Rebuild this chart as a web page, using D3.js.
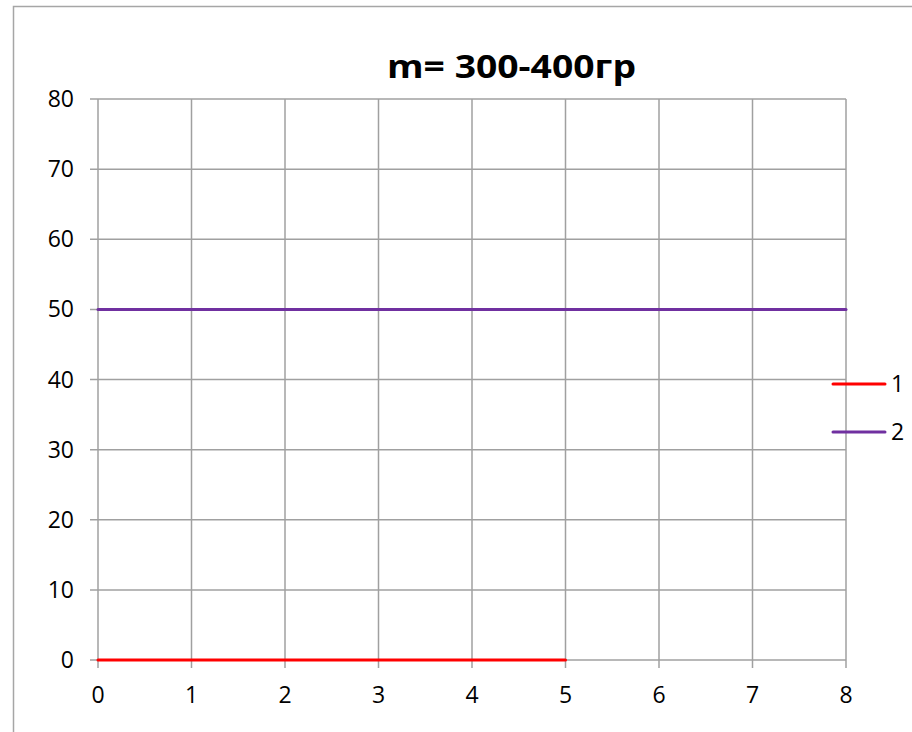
<!DOCTYPE html>
<html>
<head>
<meta charset="utf-8">
<script src="https://cdn.jsdelivr.net/npm/d3@7"></script>
<style>
  html, body { margin: 0; padding: 0; background: #fff; }
  svg { display: block; }
  text { font-family: "Open Sans", "Noto Sans", sans-serif; fill: #000; }
</style>
</head>
<body>
<script>
// Series data
const xValues1 = [0, 1, 2, 3, 4, 5];
const yValues1 = [0, 0, 0, 0, 0, 0];
const xValues2 = [0, 1, 2, 3, 4, 5, 6, 7, 8];
const yValues2 = [50, 50, 50, 50, 50, 50, 50, 50, 50];
const seriesNames = ["1", "2"];
const seriesColors = ["#ff0000", "#7030a0"];
const xTicks = [0, 1, 2, 3, 4, 5, 6, 7, 8];
const yTicks = [0, 10, 20, 30, 40, 50, 60, 70, 80];
const titleText = "m= 300-400гр";

const W = 912, H = 732;
const svg = d3.select("body").append("svg").attr("width", W).attr("height", H);

// outer chart frame
svg.append("rect")
  .attr("x", 13.5).attr("y", 6.5)
  .attr("width", W).attr("height", H)
  .attr("fill", "#fff").attr("stroke", "#a6a6a6").attr("stroke-width", 1.5);

const x = d3.scaleLinear().domain([0, 8]).range([98, 846]);
const y = d3.scaleLinear().domain([0, 80]).range([660, 99]);
const gridColor = "#a0a0a0";

// gridlines with outward tick stubs
svg.append("g").selectAll("line").data(xTicks).join("line")
  .attr("x1", d => x(d)).attr("x2", d => x(d))
  .attr("y1", y(80)).attr("y2", y(0) + 8)
  .attr("stroke", gridColor).attr("stroke-width", 1.5);
svg.append("g").selectAll("line").data(yTicks).join("line")
  .attr("x1", x(0) - 8).attr("x2", x(8))
  .attr("y1", d => y(d)).attr("y2", d => y(d))
  .attr("stroke", gridColor).attr("stroke-width", 1.5);

// axis labels
svg.append("g").selectAll("text").data(yTicks).join("text")
  .attr("x", 74).attr("y", d => y(d) + 8)
  .attr("text-anchor", "end")
  .attr("font-size", 23).text(d => d);
svg.append("g").selectAll("text").data(xTicks).join("text")
  .attr("x", d => x(d)).attr("y", 703)
  .attr("text-anchor", "middle")
  .attr("font-size", 23).text(d => d);

// series lines
const line = d3.line().x(d => x(d[0])).y(d => y(d[1]));
const series = [
  d3.zip(xValues1, yValues1),
  d3.zip(xValues2, yValues2)
];
svg.append("g").selectAll("path").data(series).join("path")
  .attr("d", line)
  .attr("fill", "none")
  .attr("stroke", (d, i) => seriesColors[i])
  .attr("stroke-width", 3)
  .attr("stroke-linecap", "round");

// legend
const legend = svg.append("g").selectAll("g").data(seriesNames).join("g")
  .attr("transform", (d, i) => `translate(833, ${384 + i * 48})`);
legend.append("line")
  .attr("x1", 0).attr("x2", 52)
  .attr("stroke", (d, i) => seriesColors[i])
  .attr("stroke-width", 3).attr("stroke-linecap", "round");
legend.append("text")
  .attr("x", 58).attr("y", 8)
  .attr("font-size", 23).text(d => d);

// title
svg.append("text")
  .attr("x", 387).attr("y", 78)
  .attr("font-size", 33).attr("font-weight", "bold")
  .attr("textLength", 249).attr("lengthAdjust", "spacingAndGlyphs")
  .text(titleText);
</script>
</body>
</html>
